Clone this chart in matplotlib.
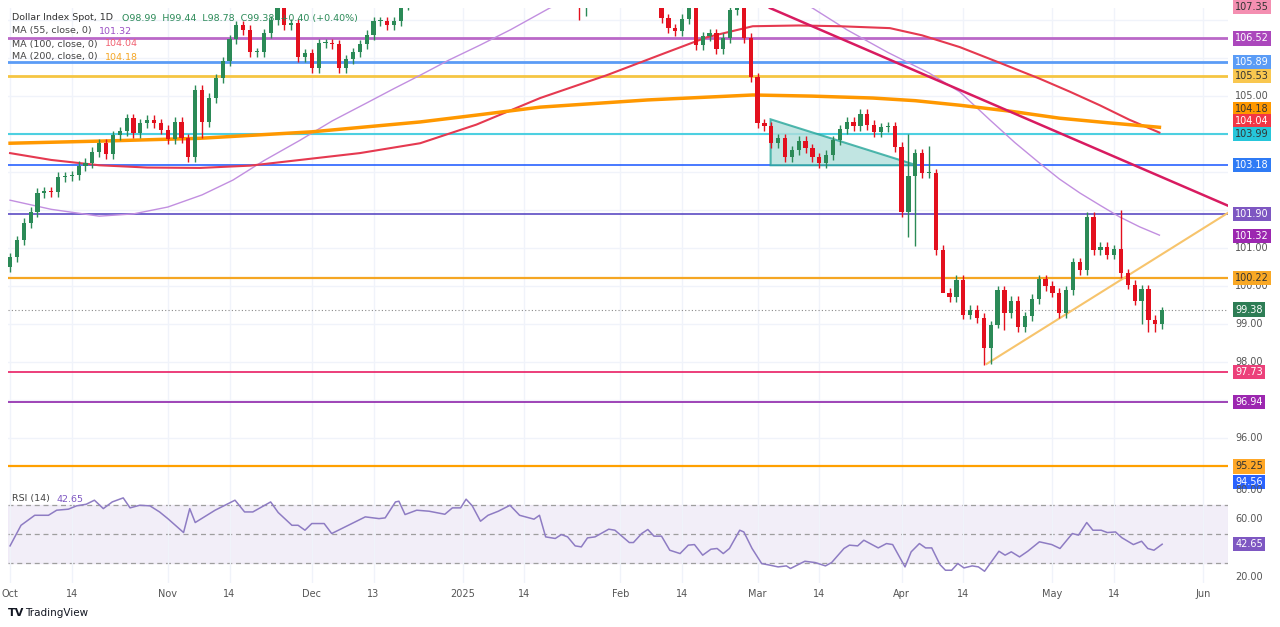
import numpy as np
import pandas as pd
import matplotlib
matplotlib.use("Agg")
import matplotlib.pyplot as plt
import matplotlib.transforms as mtrans

# ---------------- data ----------------
closes_a = [100.76,101.21,101.66,101.95,102.45,102.5,102.47,102.87,102.89,102.92,
            103.16,103.24,103.53,103.76,103.47,103.97,104.08,104.42,104.03,104.29,
            104.37,104.29,104.11,103.87,104.32,103.89,103.39,105.16,104.32,104.95,
            105.47,105.92,106.5,106.87,106.74,106.16,106.16,106.66,107.0,107.5,
            106.87,106.92,106.03,106.13,105.74,106.39,106.39,106.37,105.74,105.97,
            106.16,106.37,106.61,106.97,106.97,106.87,106.97,107.4]
closes_b = [107.8,108.0,108.1,108.0,108.2,108.0,108.5,108.4,109.4,108.9,
            108.8,108.9,109.0,109.2,109.6,109.4,109.0,109.1,109.3,109.4,
            108.6,108.3,108.1,107.8,107.5,107.4,107.9,107.8,108.0,108.4,
            108.9,108.7,107.9,107.6,107.7,108.0,108.2]
closes_c = [107.05,106.79,106.71,107.03,107.4,106.34,106.58,106.66,106.24,106.53,
            107.26,107.35,106.53,105.5,104.29,104.21,103.76,103.89,103.39,103.58,
            103.82,103.63,103.39,103.24,103.45,103.84,104.13,104.32,104.21,104.53,
            104.24,104.05,104.18,104.21,103.66,101.95,102.89,103.5,102.97,102.97,
            100.95,99.82,99.71,100.16,99.24,99.37,99.16,98.37,98.97,99.89,
            99.29,99.61,98.92,99.21,99.66,100.18,100.0,99.82,99.29,99.89,
            100.63,100.42,101.82,100.95,101.03,100.82,100.97,100.34,100.03,99.61,
            99.92,99.11,99.0,99.38]
closes = closes_a + closes_b + closes_c
first_open = 100.5
wick = 0.12
low_override = {83: 107.0, 84: 107.1, 131: 101.3, 132: 101.05, 136: 100.4, 142: 97.92, 143: 97.95,
                144: 98.9, 145: 98.85, 165: 99.0, 166: 98.78, 167: 98.78, 28: 103.9}
high_override = {131: 104.0, 134: 103.7, 162: 102.0, 168: 99.44, 110: 104.4}

ma55_idx = [0, 6, 13, 18, 23, 28, 32.5, 37, 42.3, 47, 52, 56, 59.8, 64, 68.5, 73, 78.7, 90, 100, 110,
            117, 122, 128, 134, 138.5, 142.9, 146.5, 150.1, 153, 156, 159, 161.8, 164.7, 167.6]
ma55_val = [102.26, 102.02, 101.84, 101.9, 102.08, 102.4, 102.79, 103.3, 103.84, 104.35, 104.82, 105.2, 105.55, 105.95,
            106.34, 106.75, 107.32, 108.2, 108.4, 108.0,
            107.32, 106.75, 106.15, 105.61, 105.11, 104.37, 103.78, 103.24, 102.82, 102.45, 102.12, 101.82, 101.56, 101.34]
ma100_idx = [0, 6, 13, 20, 27.7, 35, 42.3, 51, 59.8, 68, 77.3, 87, 95, 101.6, 108.3, 115, 121, 128.3, 133, 138.5,
             144, 150, 154.5, 158.9, 163.2, 167.6]
ma100_val = [103.5, 103.32, 103.18, 103.12, 103.11, 103.17, 103.32, 103.5, 103.76, 104.25, 104.95, 105.55, 106.1,
             106.55, 106.84, 106.86, 106.84, 106.79, 106.6, 106.29, 105.9, 105.47, 105.12, 104.76, 104.38, 104.04]
ma200_idx = [0, 14, 27.7, 44, 59.8, 68, 77.3, 93, 108.3, 117, 125.8, 132, 138.5, 146, 153, 160, 167.6]
ma200_val = [103.76, 103.82, 103.89, 104.06, 104.32, 104.5, 104.71, 104.9, 105.03, 105.0, 104.95, 104.88, 104.76,
             104.6, 104.42, 104.3, 104.18]

rsi_idx = [0,1.6,3.6,5.6,6.8,8.5,9.7,11.1,12.3,13.6,14.9,16.5,17.5,18.9,20.4,21.8,23.0,25.3,26.2,27.0,
           29.9,32.8,34.2,35.4,38.0,39.1,41.1,42.0,43.0,44.0,45.8,46.9,51.8,53.8,54.7,56.2,56.7,57.6,59.3,61.1,
           63.4,64.5,65.7,66.5,67.4,68.6,69.7,71.2,72.9,74.3,76.4,77.2,78.1,79.5,80.4,81.3,82.4,83.3,84.2,85.3,
           87.3,88.2,90.3,90.9,92.1,93.0,93.9,95.0,96.2,97.7,98.9,99.8,101.0,102.2,103.1,104.0,104.9,106.4,107.0,108.2,
           109.6,110.8,112.0,113.2,113.8,115.9,117.4,118.9,119.8,121.6,122.4,123.6,124.5,126.6,127.8,128.7,130.5,131.4,132.6,133.5,
           134.4,135.6,136.4,137.3,138.2,139.1,140.3,141.2,142.1,144.2,145.1,146.0,147.2,148.4,150.1,151.9,153.1,154.9,155.8,157.0,
           157.9,159.1,160.0,161.2,162.1,163.8,165.0,165.9,166.8,168]
rsi_val = [41.5,55.7,62.6,62.6,66.1,66.8,69.1,70.2,73.0,67.2,71.8,74.6,67.7,69.5,69.1,64.9,60.3,50.7,67.2,57.6,
           66.1,73.0,64.9,64.9,71.8,64.5,55.7,55.7,52.3,56.9,56.9,50.0,61.5,60.3,60.8,71.8,72.3,63.1,66.1,65.4,
           63.3,67.7,67.7,73.7,69.1,58.5,62.6,65.4,69.5,62.6,59.9,62.6,47.7,46.6,49.3,47.7,41.5,40.8,47.0,47.7,
           53.0,52.3,43.8,43.8,50.0,52.8,48.2,48.2,38.5,36.2,42.0,42.4,35.1,39.2,39.7,36.2,39.7,52.3,51.1,39.7,
           29.3,28.2,27.0,27.7,25.9,30.9,30.0,27.7,30.0,39.7,42.0,41.5,45.4,40.1,43.1,42.4,27.0,37.4,43.1,40.1,
           40.1,28.6,24.7,24.7,29.3,26.3,27.7,27.0,24.0,37.8,35.1,37.4,33.9,37.8,44.3,42.4,39.7,50.0,48.9,57.6,
           52.3,52.3,50.7,51.1,47.2,42.4,44.7,39.7,38.5,42.65]

levels = [107.35, 106.52, 105.89, 105.53, 103.99, 103.18, 101.90, 100.22, 97.73, 96.94, 95.25]
level_colors = ['#f48fb1', '#ba68c8', '#5b9cf6', '#f5c542', '#4dd0e1', '#2962ff', '#5c4bc4', '#f5a623', '#e91e63', '#8e24aa', '#ffa000']
level_widths = [1.2, 2.0, 2.0, 2.0, 1.5, 1.2, 1.2, 1.6, 1.2, 1.2, 1.6]

down_trend = ([110.8, 177.8], [107.32, 102.1])
up_trend = ([142.4, 177.8], [97.95, 101.95])
triangle_idx = [110.9, 132.2, 110.9]
triangle_val = [104.39, 103.18, 103.18]

# value, label placement, background, text colour
axis_labels = [(107.35, 107.35, '#f48fb1', '#333333'), (106.52, 106.52, '#ab47bc', 'white'),
               (105.89, 105.89, '#5b9cf6', 'white'), (105.53, 105.53, '#f9c74f', '#333333'),
               (104.18, 104.66, '#ff9800', '#333333'), (104.04, 104.34, '#f23645', 'white'),
               (103.99, 104.0, '#26c6da', '#333333'), (103.18, 103.18, '#2f7bf5', 'white'),
               (101.90, 101.90, '#7e57c2', 'white'), (101.32, 101.32, '#9c27b0', 'white'),
               (100.22, 100.22, '#f9a825', '#333333'), (99.38, 99.38, '#2e7d55', 'white'),
               (97.73, 97.73, '#ec407a', 'white'), (96.94, 96.94, '#9c27b0', 'white'),
               (95.25, 95.25, '#ffa726', '#333333'), (94.56, 94.85, '#2962ff', 'white')]
plain_ticks = [105.0, 101.0, 100.0, 99.0, 98.0, 96.0]

tick_dates = ['2024-10-01', '2024-10-14', '2024-11-01', '2024-11-14', '2024-12-02', '2024-12-13', '2025-01-01',
              '2025-01-14', '2025-02-03', '2025-02-14', '2025-03-03', '2025-03-14', '2025-04-01', '2025-04-14',
              '2025-05-01', '2025-05-14', '2025-06-02']
tick_texts = ['Oct', '14', 'Nov', '14', 'Dec', '13', '2025', '14', 'Feb', '14', 'Mar', '14', 'Apr', '14', 'May', '14', 'Jun']

# ---------------- figure ----------------
fig = plt.figure(figsize=(12.8, 6.27), dpi=100)
W, H = 1280, 627
def fx(px): return px / W
def fy(py): return 1 - py / H

ax = fig.add_axes([fx(8), fy(487), fx(1228) - fx(8), fy(8) - fy(487)])
ax2 = fig.add_axes([fx(8), fy(583), fx(1228) - fx(8), fy(487) - fy(583)])

n = len(closes)
opens = [first_open] + closes[:-1]
up_col, dn_col = '#2b8a57', '#e3101e'
for i in range(n):
    o, c = opens[i], closes[i]
    hi = high_override.get(i, max(o, c) + wick)
    lo = low_override.get(i, min(o, c) - wick)
    col = up_col if c >= o else dn_col
    ax.vlines(i, lo, hi, color=col, lw=1, zorder=3)
    h = max(abs(c - o), 0.03)
    ax.bar(i, h, bottom=min(o, c), width=0.62, color=col, zorder=4, linewidth=0)

for lv, lc, lw in zip(levels, level_colors, level_widths):
    ax.axhline(lv, color=lc, lw=lw, zorder=2)

ax.plot(ma55_idx, ma55_val, color='#c28fe0', lw=1.0, zorder=2.5)
ax.plot(ma100_idx, ma100_val, color='#e53950', lw=1.5, zorder=2.5)
ax.plot(ma200_idx, ma200_val, color='#ff9800', lw=2.5, zorder=2.5)
ax.plot(*down_trend, color='#d81b60', lw=1.8, zorder=2.6)
ax.plot(*up_trend, color='#f7c46c', lw=1.5, zorder=2.6)
ax.fill(triangle_idx, triangle_val, facecolor='#b2dfdb', edgecolor='#26a69a', lw=1.5, alpha=0.8, zorder=2.7)
ax.axhline(closes[-1], color='#8a8a8a', lw=0.8, ls=(0, (1, 2)), zorder=2)

full_dates = pd.bdate_range('2024-10-01', '2025-06-30')
tick_pos = [int(full_dates.searchsorted(pd.Timestamp(d))) for d in tick_dates]

for a in (ax, ax2):
    a.set_xticks(tick_pos)
    a.grid(True, axis='x', color='#f0f3fa', lw=1)
    a.tick_params(length=0)
    for s in a.spines.values():
        s.set_visible(False)
    a.set_yticks([])
    a.set_xlim(-0.3, 177.6)
ax.set_xticklabels([])
ax.set_ylim(94.71, 107.32)
for yv in [96, 97, 98, 99, 100, 101, 102, 103, 104, 105, 106, 107]:
    ax.axhline(yv, color='#f0f3fa', lw=1, zorder=0)

tr = mtrans.blended_transform_factory(ax.transAxes, ax.transData)
for v in plain_ticks:
    ax.text(1.006, v, f'{v:.2f}', transform=tr, fontsize=7, color='#555555', va='center', ha='left', clip_on=False)
for v, pos, bg, tc in axis_labels:
    ax.text(1.006, pos, f'{v:.2f}', transform=tr, fontsize=7, color=tc, va='center', ha='left', clip_on=False,
            bbox=dict(boxstyle='square,pad=0.22', fc=bg, ec='none'))

# header
hdr_y = [18, 31, 44, 57]
t0 = fig.text(fx(12), fy(hdr_y[0]), 'Dollar Index Spot, 1D', fontsize=6.8, color='#333333', va='center')
fig.text(fx(122), fy(hdr_y[0]), 'O98.99  H99.44  L98.78  C99.38  +0.40 (+0.40%)', fontsize=6.8, color='#2b8a57', va='center')
ma_names = ['MA (55, close, 0)', 'MA (100, close, 0)', 'MA (200, close, 0)']
ma_vals = ['101.32', '104.04', '104.18']
ma_cols = ['#9c4fc4', '#f06070', '#f5a623']
for yy, nm, vv, cc in zip(hdr_y[1:], ma_names, ma_vals, ma_cols):
    t = fig.text(fx(12), fy(yy), nm, fontsize=6.8, color='#444444', va='center')
    fig.text(0, 0, '  ' + vv, fontsize=6.8, color=cc, va='center', ha='left',
             transform=mtrans.offset_copy(fig.transFigure, fig=fig, x=0, y=0)) if False else None
    ax.annotate(vv, xy=(1, 0.5), xycoords=t, xytext=(5, 0), textcoords='offset points',
                fontsize=6.8, color=cc, va='center', ha='left', annotation_clip=False)

# RSI pane
ax2.axhspan(30, 70, color='#ede7f6', alpha=0.7, zorder=0)
for lv in (70, 50, 30):
    ax2.axhline(lv, color='#9e9e9e', lw=0.9, ls=(0, (4, 3)), zorder=1)
ax2.plot(rsi_idx, rsi_val, color='#8e7cc3', lw=1.1, zorder=3)
ax2.set_ylim(15.9, 82.1)
ax2.set_xticklabels(tick_texts, fontsize=7, color='#555555')
ax2.tick_params(axis='x', pad=4)
tr2 = mtrans.blended_transform_factory(ax2.transAxes, ax2.transData)
for v in (80, 60, 20):
    ax2.text(1.006, v, f'{v:.2f}', transform=tr2, fontsize=7, color='#555555', va='center', ha='left', clip_on=False)
ax2.text(1.006, 42.65, '42.65', transform=tr2, fontsize=7, color='white', va='center', ha='left', clip_on=False,
         bbox=dict(boxstyle='square,pad=0.22', fc='#7e57c2', ec='none'))
tr_ = fig.text(fx(12), fy(499), 'RSI (14)', fontsize=6.8, color='#444444', va='center')
ax2.annotate('42.65', xy=(1, 0.5), xycoords=tr_, xytext=(5, 0), textcoords='offset points',
             fontsize=6.8, color='#7e57c2', va='center', ha='left', annotation_clip=False)

fig.text(fx(8), fy(613), 'TV', fontsize=8, color='#131722', va='center', fontweight='bold')
fig.text(fx(25), fy(613), 'TradingView', fontsize=7.5, color='#131722', va='center')

fig.savefig('out.png', dpi=100, facecolor='white')
